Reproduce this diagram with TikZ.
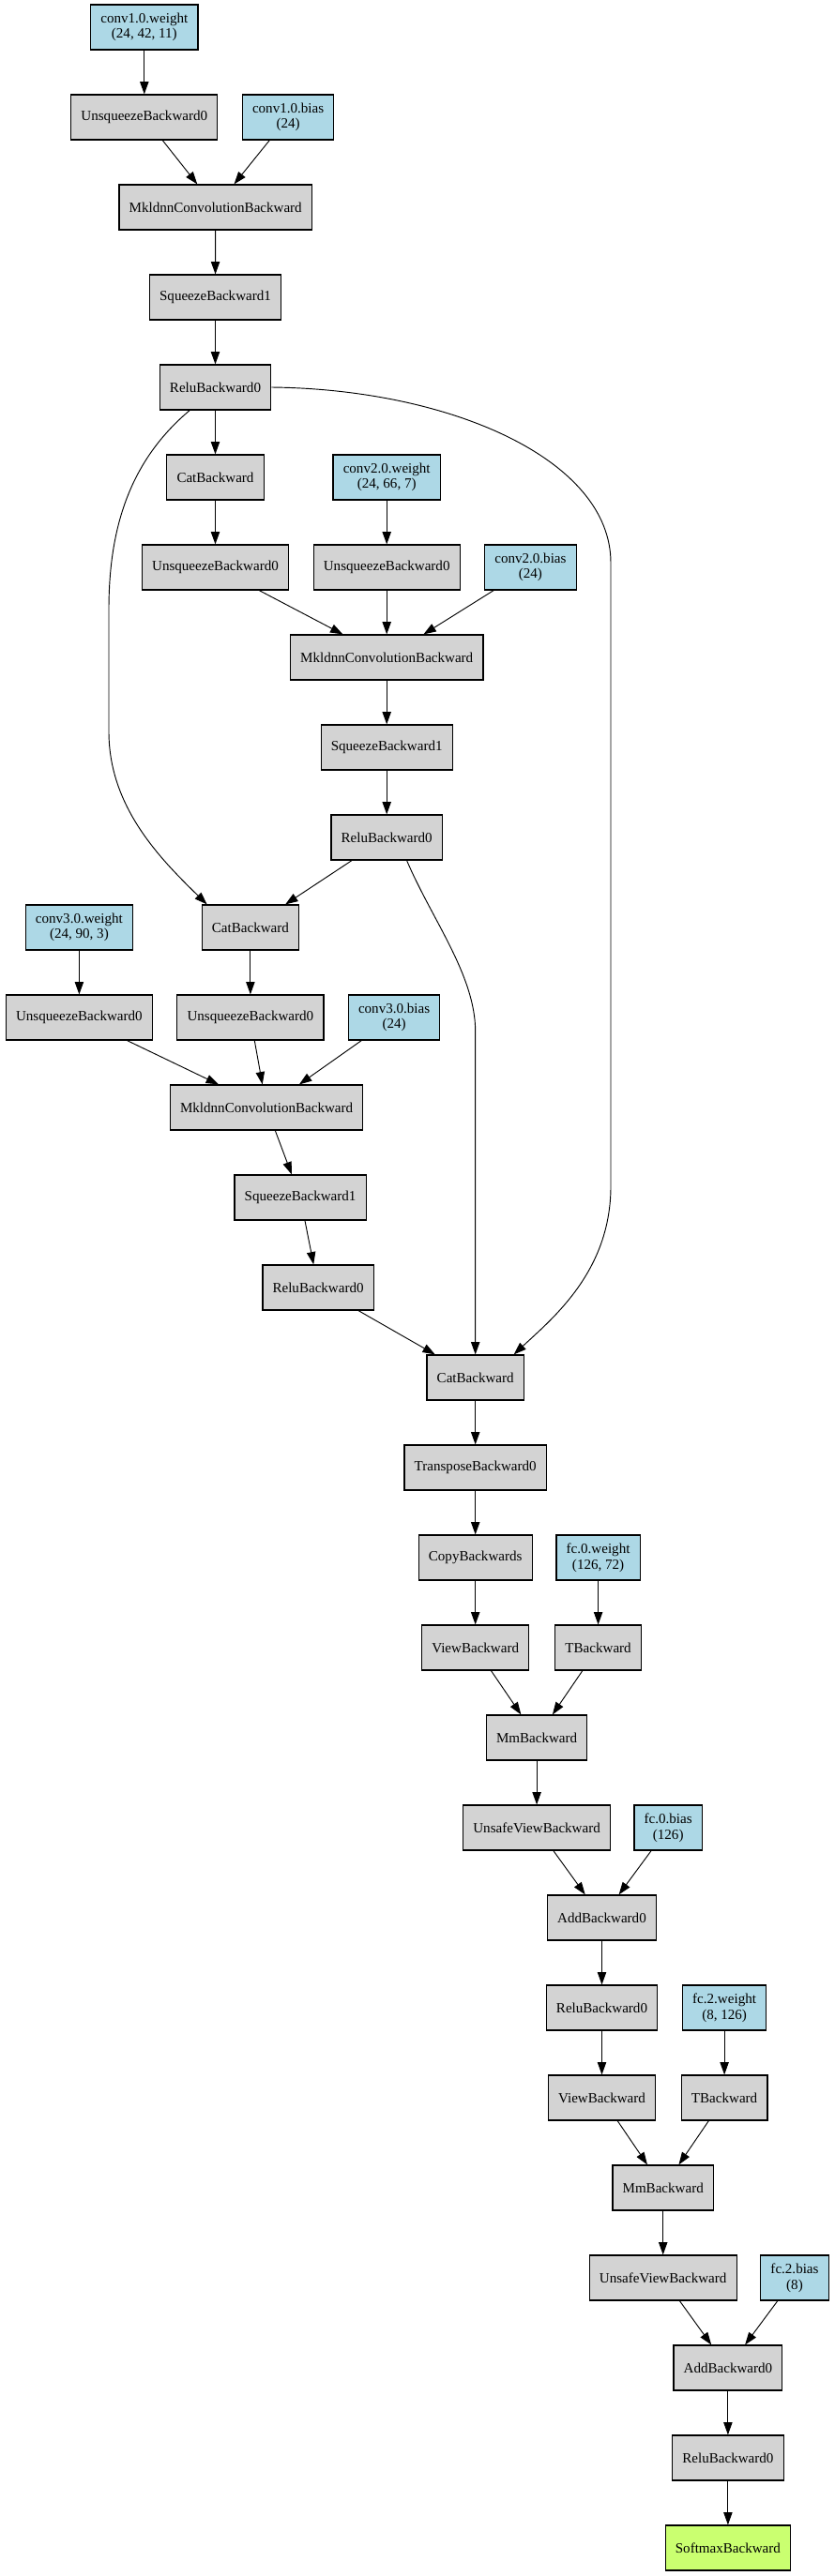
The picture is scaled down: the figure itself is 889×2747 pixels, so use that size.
\documentclass[tikz,border=0pt]{standalone}
\usepackage{fontspec}
\setmainfont{Liberation Serif}
\usetikzlibrary{arrows.meta}
\definecolor{opgray}{HTML}{D3D3D3}
\definecolor{parblue}{HTML}{ADD8E6}
\definecolor{outgreen}{HTML}{CAFF70}
\tikzset{
  op/.style = {draw, line width=0.9pt, fill=opgray, rectangle,
    minimum height=36pt, minimum width=54pt, inner xsep=8pt, align=center,
    font=\fontsize{11.3}{12.5}\selectfont},
  param/.style = {op, fill=parblue},
  result/.style = {op, fill=outgreen}
}
\tikzset{>={Triangle[length=10pt,width=7pt]}}

\begin{document}
\begin{tikzpicture}[x=0.75pt,y=-0.75pt,line width=0.7pt]
  \useasboundingbox (0,0) rectangle (889,2747);
  % conv1
  \node[param] (conv1w) at (153.8,29) {conv1.0.weight\\(24, 42, 11)};
  \node[op] (unsq1) at (153.8,125) {UnsqueezeBackward0};
  \node[param] (conv1b) at (307.1,125) {conv1.0.bias\\(24)};
  \node[op] (mkl1) at (229.7,221) {MkldnnConvolutionBackward};
  \node[op] (sq1) at (229.5,317) {SqueezeBackward1};
  \node[op] (relu1) at (229.5,413) {ReluBackward0};
  % conv2
  \node[op] (cat1) at (229.5,509) {CatBackward};
  \node[param] (conv2w) at (412.2,509) {conv2.0.weight\\(24, 66, 7)};
  \node[op] (unsq2a) at (229.5,605) {UnsqueezeBackward0};
  \node[op] (unsq2b) at (412.2,605) {UnsqueezeBackward0};
  \node[param] (conv2b) at (565.4,605) {conv2.0.bias\\(24)};
  \node[op] (mkl2) at (412.2,701) {MkldnnConvolutionBackward};
  \node[op] (sq2) at (412.2,797) {SqueezeBackward1};
  \node[op] (relu2) at (412.2,893) {ReluBackward0};
  % conv3
  \node[op] (cat2) at (266.9,989) {CatBackward};
  \node[param] (conv3w) at (84.4,989) {conv3.0.weight\\(24, 90, 3)};
  \node[op] (unsq3a) at (84.4,1085) {UnsqueezeBackward0};
  \node[op] (unsq3b) at (266.9,1085) {UnsqueezeBackward0};
  \node[param] (conv3b) at (420.1,1085) {conv3.0.bias\\(24)};
  \node[op] (mkl3) at (284.1,1181) {MkldnnConvolutionBackward};
  \node[op] (sq3) at (320.1,1277) {SqueezeBackward1};
  \node[op] (relu3) at (339.1,1373) {ReluBackward0};
  % head
  \node[op] (cat3) at (506.7,1469) {CatBackward};
  \node[op] (transp) at (506.7,1565) {TransposeBackward0};
  \node[op] (copy) at (506.7,1661) {CopyBackwards};
  \node[param] (fc0w) at (637.6,1661) {fc.0.weight\\(126, 72)};
  \node[op] (view1) at (506.7,1757) {ViewBackward};
  \node[op] (t1) at (637.6,1757) {TBackward};
  \node[op] (mm1) at (572.1,1853) {MmBackward};
  \node[op] (uview1) at (572.1,1949) {UnsafeViewBackward};
  \node[param] (fc0b) at (712.2,1949) {fc.0.bias\\(126)};
  \node[op] (add1) at (641.5,2045) {AddBackward0};
  \node[op] (relu4) at (641.5,2141) {ReluBackward0};
  \node[param] (fc2w) at (772.1,2141) {fc.2.weight\\(8, 126)};
  \node[op] (view2) at (641.5,2237) {ViewBackward};
  \node[op] (t2) at (772.1,2237) {TBackward};
  \node[op] (mm2) at (706.7,2333) {MmBackward};
  \node[op] (uview2) at (706.7,2429) {UnsafeViewBackward};
  \node[param] (fc2b) at (847,2429) {fc.2.bias\\(8)};
  \node[op] (add2) at (775.9,2525) {AddBackward0};
  \node[op] (relu5) at (775.9,2621) {ReluBackward0};
  \node[result] (softmax) at (775.9,2717) {SoftmaxBackward};

  \draw[->] (conv1w) -- (unsq1);
  \draw[->] (unsq1) -- (mkl1);
  \draw[->] (conv1b) -- (mkl1);
  \draw[->] (mkl1) -- (sq1);
  \draw[->] (sq1) -- (relu1);
  \draw[->] (relu1) -- (cat1);
  \draw[->] (cat1) -- (unsq2a);
  \draw[->] (conv2w) -- (unsq2b);
  \draw[->] (unsq2a) -- (mkl2);
  \draw[->] (unsq2b) -- (mkl2);
  \draw[->] (conv2b) -- (mkl2);
  \draw[->] (mkl2) -- (sq2);
  \draw[->] (sq2) -- (relu2);
  \draw[->] (relu2) -- (cat2);
  \draw[->] (relu1.222) .. controls (140,490) and (116,560) .. (116,650)
    -- (116,780) .. controls (116,860) and (170,915) .. (cat2.152);
  \draw[->] (cat2) -- (unsq3b);
  \draw[->] (conv3w) -- (unsq3a);
  \draw[->] (unsq3a) -- (mkl3);
  \draw[->] (unsq3b) -- (mkl3);
  \draw[->] (conv3b) -- (mkl3);
  \draw[->] (mkl3) -- (sq3);
  \draw[->] (sq3) -- (relu3);
  \draw[->] (relu3) -- (cat3);
  \draw[->] (relu2.311) .. controls (460,980) and (506.7,1040) .. (506.7,1100)
    -- (cat3);
  \draw[->] (relu1.east) .. controls (480,415) and (651,490) .. (651,600)
    -- (651,1265) .. controls (651,1355) and (590,1405) .. (cat3.31);
  \draw[->] (cat3) -- (transp);
  \draw[->] (transp) -- (copy);
  \draw[->] (copy) -- (view1);
  \draw[->] (fc0w) -- (t1);
  \draw[->] (view1) -- (mm1);
  \draw[->] (t1) -- (mm1);
  \draw[->] (mm1) -- (uview1);
  \draw[->] (uview1) -- (add1);
  \draw[->] (fc0b) -- (add1);
  \draw[->] (add1) -- (relu4);
  \draw[->] (relu4) -- (view2);
  \draw[->] (fc2w) -- (t2);
  \draw[->] (view2) -- (mm2);
  \draw[->] (t2) -- (mm2);
  \draw[->] (mm2) -- (uview2);
  \draw[->] (uview2) -- (add2);
  \draw[->] (fc2b) -- (add2);
  \draw[->] (add2) -- (relu5);
  \draw[->] (relu5) -- (softmax);
\end{tikzpicture}
\end{document}
